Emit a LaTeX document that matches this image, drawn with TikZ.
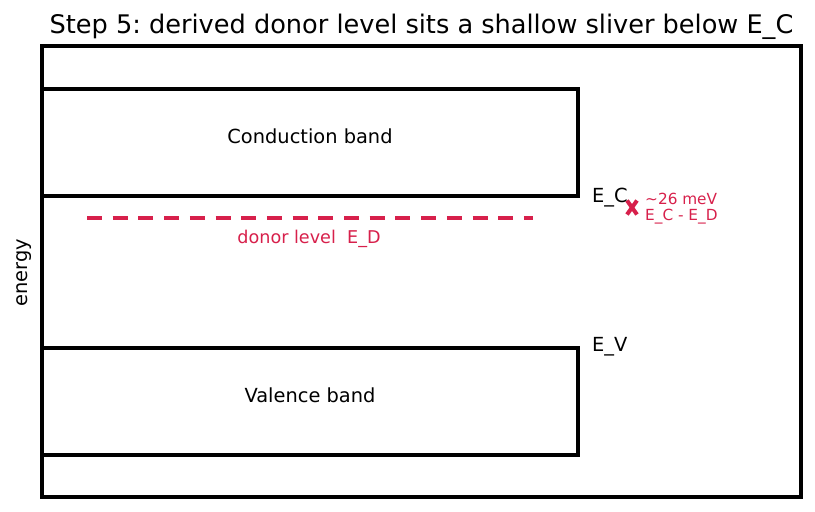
\documentclass[tikz,border=0pt]{standalone}
\usepackage{fontspec}
\setmainfont{DejaVu Sans}
\usetikzlibrary{calc}
\definecolor{donor}{HTML}{D7204B}
\frenchspacing
\begin{document}
\begin{tikzpicture}[x=1pt,y=-1pt,
  frame/.style={draw=black,line width=3.5pt},
  band/.style={draw=black,line width=3.5pt,rectangle,inner sep=0pt},
  lbl/.style={font=\fontsize{19.4}{22}\selectfont,inner sep=0pt},
  redlbl/.style={font=\fontsize{15.3}{17}\selectfont,text=donor,inner sep=0pt,anchor=base west}]
\useasboundingbox (0,0) rectangle (815,512);
\node[font=\fontsize{25.6}{29}\selectfont,inner sep=0pt,anchor=base] (title) at (421.5,33) {Step 5: derived donor level sits a shallow sliver below E\_C};
\draw[frame] (42,46) rectangle (801,497);
\node[band,minimum width=536pt,minimum height=107pt] (cb) at (310,142.5) {};
\node[band,minimum width=536pt,minimum height=107pt] (vb) at (310,401.5) {};
\node[lbl,anchor=base] (cbl) at (310,143) {Conduction band};
\node[lbl,anchor=base] (vbl) at (310,402) {Valence band};
\node[lbl,anchor=base west] (ec) at (592,202) {E\_C};
\node[lbl,anchor=base west] (ev) at (592,351) {E\_V};
\node[lbl,rotate=90] (en) at (24,273) {energy};
\coordinate (d1) at (87,218);
\coordinate (d2) at (533,218);
\draw[donor,line width=4pt,dash pattern=on 15pt off 10.7pt] (d1) -- (d2);
\node[font=\fontsize{17.6}{20}\selectfont,text=donor,inner sep=0pt] (dl) at (309,239) {donor level\ \ E\_D};
\coordinate (xm) at (632,207.5);
\draw[donor,line width=4pt] ($(xm)+(-5,-7)$) -- ($(xm)+(5,7)$) ($(xm)+(-5,7)$) -- ($(xm)+(5,-7)$);
\node[redlbl] (m1) at (645,204) {\textasciitilde26 meV};
\node[redlbl] (m2) at (645,220) {E\_C - E\_D};
\end{tikzpicture}
\end{document}
